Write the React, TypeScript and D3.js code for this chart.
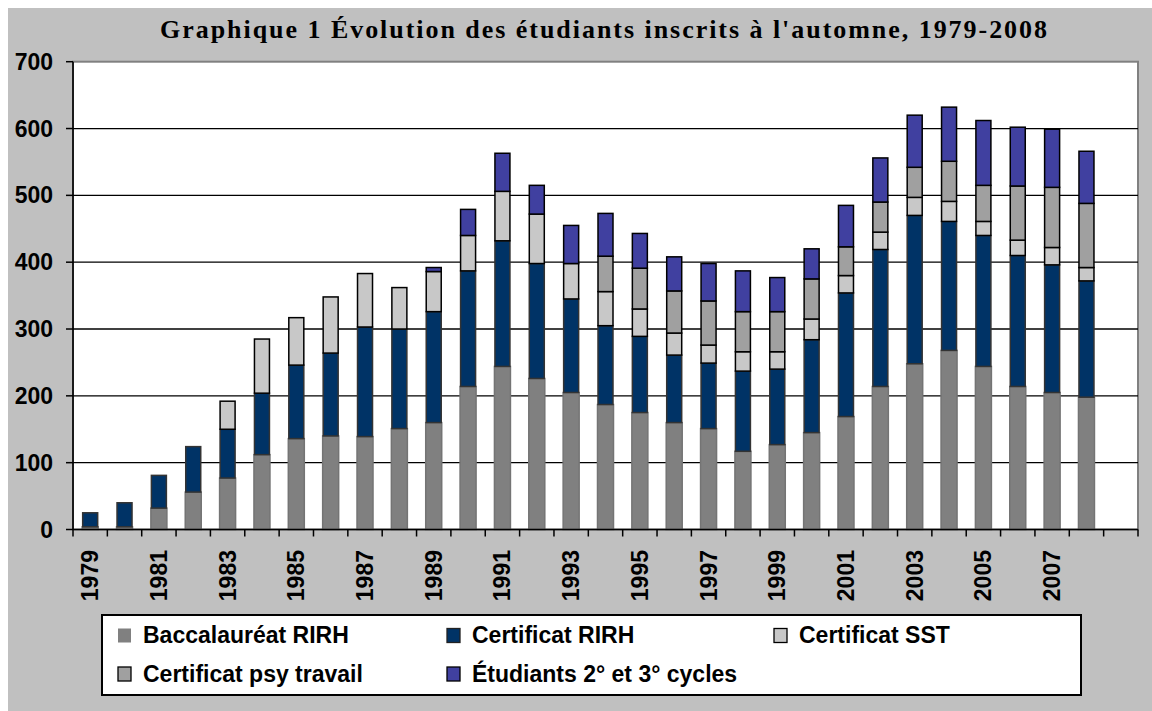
import React from "react";
import * as d3 from "d3";

const categories: string[] = [
  "1979", "1980", "1981", "1982", "1983", "1984", "1985", "1986", "1987", "1988",
  "1989", "1990", "1991", "1992", "1993", "1994", "1995", "1996", "1997", "1998",
  "1999", "2000", "2001", "2002", "2003", "2004", "2005", "2006", "2007", "2008", "",
];
const years = categories.filter((c) => c !== "");

const baccalaureatRIRH = [4, 4, 32, 56, 77, 112, 136, 140, 139, 151, 160, 214, 244, 226, 205, 187, 175, 160, 151, 117, 127, 145, 169, 214, 248, 268, 244, 214, 205, 198];
const certificatRIRH = [21, 36, 49, 68, 73, 92, 110, 124, 164, 149, 166, 173, 188, 172, 140, 118, 114, 101, 98, 120, 113, 139, 185, 205, 222, 193, 196, 196, 191, 174];
const certificatSST = [0, 0, 0, 0, 42, 81, 71, 84, 80, 62, 60, 53, 74, 74, 53, 51, 41, 33, 27, 29, 26, 31, 26, 26, 27, 30, 21, 23, 26, 20];
const certificatPsy = [0, 0, 0, 0, 0, 0, 0, 0, 0, 0, 0, 0, 0, 0, 0, 53, 61, 63, 66, 60, 60, 60, 43, 45, 45, 60, 54, 81, 90, 96];
const etudiants23 = [0, 0, 0, 0, 0, 0, 0, 0, 0, 0, 6, 39, 57, 43, 57, 64, 52, 51, 56, 61, 51, 45, 62, 66, 78, 81, 97, 88, 87, 78];

const yTicks = [0, 100, 200, 300, 400, 500, 600, 700];

const seriesKeys = ["bac", "cert", "sst", "psy", "etud"];
const seriesLabels = [
  "Baccalauréat RIRH",
  "Certificat RIRH",
  "Certificat SST",
  "Certificat psy travail",
  "Étudiants 2° et 3° cycles",
];
const seriesFill = ["#808080", "#003366", "#C8C8C8", "#A0A0A0", "#4040A0"];
const seriesStroke = ["#747474", "#333333", "#000000", "#000000", "#000000"];

const titleText = "Graphique 1 Évolution des étudiants inscrits à l'automne, 1979-2008";

const W = 1152;
const H = 711;
const plotL = 73;
const plotR = 1138;
const plotT = 61.7;
const plotB = 529.5;
const sans = "'Liberation Sans', Arial, sans-serif";
const serif = "'Liberation Serif', 'Times New Roman', serif";
const fs = 23;

export default function App() {
  const rows = years.map((yr, i) => ({
    year: yr,
    bac: baccalaureatRIRH[i],
    cert: certificatRIRH[i],
    sst: certificatSST[i],
    psy: certificatPsy[i],
    etud: etudiants23[i],
  }));
  const stack = d3.stack<any>().keys(seriesKeys);
  const stacked = stack(rows);

  const x = d3.scaleBand<string>().domain(categories.map((c, i) => c || `_${i}`)).range([plotL, plotR]).padding(0);
  const y = d3.scaleLinear().domain([0, 700]).range([plotB, plotT]);
  const bw = x.bandwidth();
  const barW = 15;

  const legendCols = [117, 446, 773];
  const legendRows = [643, 681.5];

  return (
    <svg
      width={W}
      height={H}
      style={{ position: "fixed", top: 0, left: 0, display: "block" }}
    >
      <rect x={0} y={0} width={W} height={H} fill="#ffffff" />
      <rect x={8} y={8} width={W - 8} height={H - 8} fill="#C0C0C0" />
      <text
        x={160}
        y={38}
        textLength={887}
        lengthAdjust="spacing"
        fontFamily={serif}
        fontWeight="bold"
        fontSize={26}
        fill="#000"
      >
        {titleText}
      </text>

      {/* plot area */}
      <rect x={plotL} y={plotT} width={plotR - plotL} height={plotB - plotT} fill="#ffffff" stroke="#808080" strokeWidth={2} />
      {yTicks.filter((t) => t > 0 && t < 700).map((t) => (
        <line key={t} x1={plotL} x2={plotR} y1={y(t)} y2={y(t)} stroke="#000" strokeWidth={1.3} />
      ))}

      {/* bars */}
      {stacked.map((s, si) => (
        <g key={s.key}>
          {s.map((d, i) => {
            const h = y(d[0]) - y(d[1]);
            if (h <= 0) return null;
            const cx = (x(years[i]) as number) + bw / 2;
            const extra = si === 0 ? 1 : 0;
            return (
              <rect
                key={i}
                x={cx - barW / 2 - extra / 2}
                y={y(d[1])}
                width={barW + extra}
                height={h}
                fill={seriesFill[si]}
                stroke={seriesStroke[si]}
                strokeWidth={1.5}
              />
            );
          })}
        </g>
      ))}

      {/* axes */}
      <line x1={plotL} x2={plotL} y1={plotT} y2={plotB} stroke="#000" strokeWidth={1.6} />
      <line x1={plotL} x2={plotR} y1={plotB} y2={plotB} stroke="#000" strokeWidth={1.6} />
      {yTicks.map((t) => (
        <g key={t}>
          <line x1={66} x2={plotL} y1={y(t)} y2={y(t)} stroke="#000" strokeWidth={1.5} />
          <text
            x={53}
            y={y(t)}
            textAnchor="end"
            dominantBaseline="central"
            fontFamily={sans}
            fontWeight="bold"
            fontSize={fs}
            fill="#000"
          >
            {t}
          </text>
        </g>
      ))}
      {categories.map((c, i) => {
        const key = c || `_${i}`;
        const x0 = x(key) as number;
        return <line key={`t${i}`} x1={x0} x2={x0} y1={plotB} y2={plotB + 7} stroke="#000" strokeWidth={1.5} />;
      })}
      <line x1={plotR} x2={plotR} y1={plotB} y2={plotB + 7} stroke="#000" strokeWidth={1.5} />
      {categories.map((c, i) => {
        if (!c || i % 2 !== 0) return null;
        const cx = (x(c) as number) + bw / 2;
        return (
          <text
            key={`l${i}`}
            transform={`translate(${cx},${550}) rotate(-90)`}
            textAnchor="end"
            dominantBaseline="central"
            fontFamily={sans}
            fontWeight="bold"
            fontSize={fs}
            fill="#000"
          >
            {c}
          </text>
        );
      })}

      {/* legend */}
      <rect x={102} y={615} width={979} height={80} fill="#fff" stroke="#000" strokeWidth={2} />
      {seriesLabels.map((lab, i) => {
        const col = i % 3;
        const row = Math.floor(i / 3);
        const lx = legendCols[col];
        const ly = legendRows[row];
        return (
          <g key={lab}>
            <rect
              x={lx + 1}
              y={ly - 14.5}
              width={13}
              height={14}
              fill={seriesFill[i]}
              stroke={i === 0 ? "none" : i === 1 ? "#222" : "#000"}
              strokeWidth={1.3}
            />
            <text x={lx + 26} y={ly} fontFamily={sans} fontWeight="bold" fontSize={fs} fill="#000">
              {lab}
            </text>
          </g>
        );
      })}
    </svg>
  );
}
